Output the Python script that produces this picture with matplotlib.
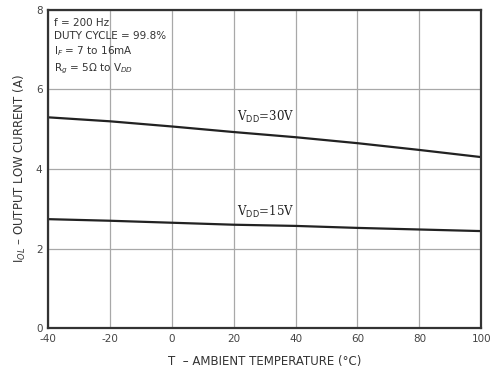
import matplotlib
matplotlib.use('Agg')
import matplotlib.pyplot as plt
import numpy as np

plt.rcParams['axes.unicode_minus'] = False

# temperature (C) and output low current (A)
temp = [-40, -20, 0, 20, 40, 60, 80, 100]
iol_30v = [5.30, 5.20, 5.07, 4.93, 4.80, 4.65, 4.48, 4.30]
iol_15v = [2.74, 2.70, 2.65, 2.60, 2.57, 2.52, 2.48, 2.44]

xticks = [-40, -20, 0, 20, 40, 60, 80, 100]
yticks = [0, 2, 4, 6, 8]

fig = plt.figure(figsize=(4.91, 3.82), dpi=100)
ax = fig.add_axes([0.098, 0.141, 0.882, 0.833])

ax.plot(temp, iol_30v, color='#222222', lw=1.6)
ax.plot(temp, iol_15v, color='#222222', lw=1.6)

ax.set_xlim(-40, 100)
ax.set_ylim(0, 8)
ax.set_xticks(xticks)
ax.set_yticks(yticks)
ax.grid(True, color='#a8a8a8', lw=0.9)
ax.tick_params(length=0, labelsize=7.5, labelcolor='#444444', pad=4)
for s in ax.spines.values():
    s.set_linewidth(1.6)
    s.set_color('#333333')

ax.text(21, 5.22, r'V$_{\rm DD}$=30V', family='DejaVu Serif', fontsize=8.5, color='#222222')
ax.text(21, 2.83, r'V$_{\rm DD}$=15V', family='DejaVu Serif', fontsize=8.5, color='#222222')

note = ('f = 200 Hz\nDUTY CYCLE = 99.8%\nI$_F$ = 7 to 16mA\nR$_g$ = 5\u03a9 to V$_{DD}$')
ax.text(-38, 7.8, note, fontsize=7.5, color='#333333', va='top', linespacing=1.35)

ax.set_xlabel('T  \u2013 AMBIENT TEMPERATURE (\u00b0C)', fontsize=8.5, color='#333333', labelpad=8)
ax.set_ylabel('I$_{OL}$ \u2013 OUTPUT LOW CURRENT (A)', fontsize=8.5, color='#333333', labelpad=6)

fig.savefig('out.png', dpi=100)
